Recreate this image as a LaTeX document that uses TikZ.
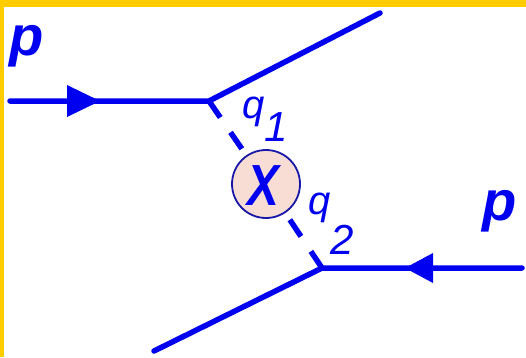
\documentclass[tikz,border=0pt]{standalone}
\usepackage{fontspec}
\newfontfamily\lsans{Liberation Sans}
\definecolor{frameyel}{HTML}{FFCC00}
\definecolor{lineblue}{HTML}{0000F0}
\definecolor{circfill}{HTML}{F8DDD5}
\definecolor{circedge}{HTML}{1818A8}
\begin{document}
\begin{tikzpicture}[x=1pt,y=-1pt,
  fermion/.style={draw=lineblue,line width=5.5pt,line cap=round,line join=round},
  virtual/.style={draw=lineblue,line width=5.5pt,dash pattern=on 20pt off 18pt},
  bigp/.style={text=lineblue,font=\lsans\bfseries\itshape\fontsize{56}{60}\selectfont,inner sep=0pt,anchor=base west},
  qlab/.style={text=lineblue,font=\lsans\itshape\fontsize{40}{44}\selectfont,inner sep=0pt,anchor=base west},
  qsub/.style={text=lineblue,font=\lsans\itshape\fontsize{42}{44}\selectfont,inner sep=0pt,anchor=base west}]
\useasboundingbox (0,0) rectangle (526,357);
\fill[white] (0,0) rectangle (526,357);
\fill[frameyel] (0,0) rectangle (526,6.5);
\fill[frameyel] (0,0) rectangle (4,357);
% vertices and free ends
\coordinate (v1) at (209,101);
\coordinate (v2) at (322,268);
\coordinate (in1) at (10,101);
\coordinate (out1) at (380,13);
\coordinate (in2) at (522,268);
\coordinate (out2) at (154,351);
% blob
\node[circle,draw=circedge,line width=1.8pt,fill=circfill,minimum size=68pt,inner sep=0pt] (X) at (266,184) {};
\node[text=lineblue,font=\lsans\bfseries\itshape\fontsize{58}{60}\selectfont,inner sep=0pt,anchor=base,xscale=0.82] (Xl) at (263,205) {X};
% virtual lines
\draw[virtual] (v1) -- (X);
\draw[virtual] (v2) -- (X);
% fermion lines
\draw[fermion] (in1) -- (v1) -- (out1);
\draw[fermion] (in2) -- (v2) -- (out2);
% arrowheads
\coordinate (t1) at (100,101);
\coordinate (t2) at (405,268);
\fill[lineblue] (t1) -- ++(-33,-16) -- ++(0,32) -- cycle;
\fill[lineblue] (t2) -- ++(28,-15) -- ++(0,30) -- cycle;
% labels
\node[bigp] (p1) at (9,55) {p};
\node[bigp] (p2) at (482,220) {p};
\node[qlab] (q1) at (242,118) {q};
\node[qsub] (n1) at (264,141) {1};
\node[qlab] (q2) at (308,214) {q};
\node[qsub] (n2) at (330,254) {2};
\end{tikzpicture}
\end{document}
